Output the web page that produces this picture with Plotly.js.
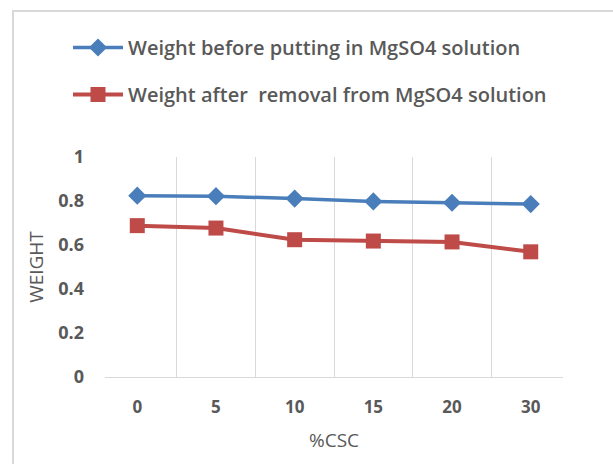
<!DOCTYPE html>
<html>
<head>
<meta charset="utf-8">
<script src="https://cdn.plot.ly/plotly-3.0.1.min.js"></script>
<style>
  html, body { margin: 0; padding: 0; background: #fff; }
  #wrap { position: relative; width: 613px; height: 464px; }
  #chart { width: 613px; height: 464px; }
  #frame { position: absolute; left: 12px; top: 10px; right: -4px; bottom: -4px;
           border-left: 2px solid #d9d9d9; border-top: 2px solid #d9d9d9; pointer-events: none; }
</style>
</head>
<body>
<div id="wrap">
  <div id="chart"></div>
  <div id="frame"></div>
</div>
<script>
const categories = ["0", "5", "10", "15", "20", "30"];
const weightBefore = [0.824, 0.822, 0.811, 0.798, 0.792, 0.786];
const weightAfter = [0.688, 0.677, 0.624, 0.618, 0.614, 0.569];
const seriesNames = ["Weight before putting in MgSO4 solution", "Weight after  removal from MgSO4 solution"];

const font = "'Open Sans', Lato, sans-serif";
const grey = "#595959";

const traces = [
  {
    x: categories, y: weightBefore, name: seriesNames[0], type: "scatter", mode: "lines+markers",
    legendgroup: "a",
    line: { color: "#4a7ebb", width: 3.5 },
    marker: { symbol: "diamond", size: 14, color: "#4a7ebb" }
  },
  {
    x: categories, y: weightAfter, name: seriesNames[1], type: "scatter", mode: "lines+markers",
    legendgroup: "b",
    line: { color: "#be4b48", width: 4 },
    marker: { symbol: "square", size: 15, color: "#be4b48" }
  }
];

const layout = {
  width: 613, height: 464,
  margin: { l: 105, r: 50, t: 157, b: 87 },
  paper_bgcolor: "#ffffff", plot_bgcolor: "#ffffff",
  font: { family: font, color: grey },
  showlegend: true,
  legend: {
    x: (68 - 105) / 458, xanchor: "left",
    y: 1 + (157 - 28) / 220, yanchor: "top",
    traceorder: "grouped", tracegroupgap: 18,
    itemwidth: 50,
    font: { family: font, size: 20, color: grey, weight: 600 },
    bgcolor: "rgba(0,0,0,0)"
  },
  xaxis: {
    type: "category",
    tickson: "boundaries",
    showgrid: true, gridcolor: "#d9d9d9", gridwidth: 1,
    showline: true, linecolor: "#d9d9d9", linewidth: 1,
    ticks: "", ticklabelstandoff: 15,
    tickfont: { family: font, size: 17, color: grey, weight: "bold" },
    title: { text: "%CSC", font: { family: font, size: 19, color: grey }, standoff: 16 },
    zeroline: false
  },
  yaxis: {
    range: [0, 1], dtick: 0.2, tick0: 0,
    showgrid: false, zeroline: false, showline: false,
    ticks: "", ticklabelstandoff: 20,
    tickfont: { family: font, size: 18, color: grey, weight: "bold" },
    title: { text: "WEIGHT", font: { family: font, size: 19, color: grey }, standoff: 9 }
  }
};

Plotly.newPlot("chart", traces, layout, { displayModeBar: false, staticPlot: true });
</script>
</body>
</html>
